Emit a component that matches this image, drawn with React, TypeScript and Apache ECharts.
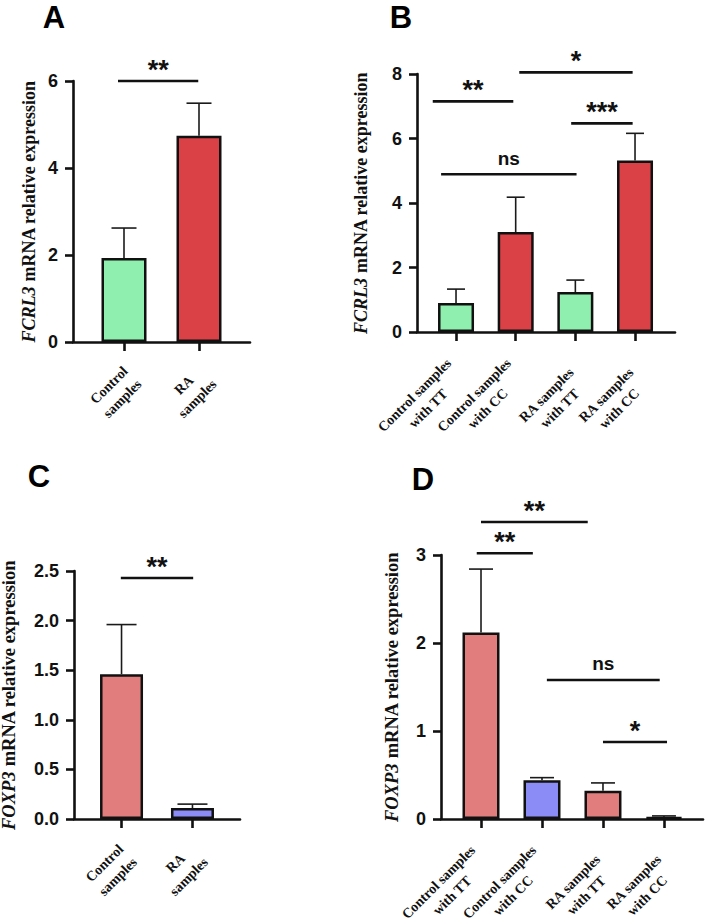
import React, { useEffect, useRef } from 'react';
import * as echarts from 'echarts';

// ---- Group names --------------------------------------------------------
const twoGroups = ['Control\nsamples', 'RA\nsamples'];
const genotypeGroups = [
  'Control samples\nwith TT',
  'Control samples\nwith CC',
  'RA samples\nwith TT',
  'RA samples\nwith CC',
];

// ---- Relative expression (mean and SEM) ----------------------------------
const fcrl3Mean = [1.93, 4.74];
const fcrl3Sem = [0.69, 0.75];

const fcrl3GenoMean = [0.9, 3.1, 1.24, 5.32];
const fcrl3GenoSem = [0.43, 1.08, 0.37, 0.84];

const foxp3Mean = [1.46, 0.11];
const foxp3Sem = [0.5, 0.04];

const foxp3GenoMean = [2.12, 0.44, 0.32, 0.02];
const foxp3GenoSem = [0.72, 0.03, 0.09, 0.015];

// ---- Significance brackets: [from group, to group, height, mark] ----------
const fcrl3Sig: [number, number, number, string][] = [[-0.08, 0.99, 6.0, '**']];
const fcrl3GenoSig: [number, number, number, string][] = [
  [-0.39, 0.96, 7.15, '**'],
  [1.06, 2.96, 8.05, '*'],
  [1.93, 2.96, 6.47, '***'],
  [-0.25, 2.02, 4.89, 'ns'],
];
const foxp3Sig: [number, number, number, string][] = [[-0.01, 1.01, 2.43, '**']];
const foxp3GenoSig: [number, number, number, string][] = [
  [-0.07, 0.85, 3.02, '**'],
  [0, 1.75, 3.375, '**'],
  [1.08, 2.93, 1.58, 'ns'],
  [2.0, 3.05, 0.875, '*'],
];

// ---- Value axes: [max, step] ---------------------------------------------
const fcrl3Axis = [6, 2];
const fcrl3GenoAxis = [8, 2];
const foxp3Axis = [2.5, 0.5];
const foxp3GenoAxis = [3, 1];

const GREEN = '#8FEFAE';
const RED = '#D94147';
const PINK = '#E27D7D';
const BLUE = '#8C8CF7';

const SANS = '"Liberation Sans", Arial, sans-serif';
const SERIF = '"Liberation Serif", "Times New Roman", serif';
const LABEL_SIZE = 14;
const LABEL_LINE = 19;
const R2 = Math.SQRT1_2;

let measureCtx: CanvasRenderingContext2D | null = null;
function textWidth(s: string): number {
  if (!measureCtx) measureCtx = document.createElement('canvas').getContext('2d');
  if (!measureCtx) return s.length * 7;
  measureCtx.font = `bold ${LABEL_SIZE}px ${SERIF}`;
  return measureCtx.measureText(s).width;
}

type Panel = {
  letter: string;
  letterPos: [number, number];
  gene: string;
  cats: string[];
  mean: number[];
  sem: number[];
  colors: string[];
  sig: [number, number, number, string][];
  axis: number[];
  decimals: number;
  grid: { left: number; top: number; width: number; height: number };
  xRange: [number, number];
  barWidth: number;
  cap: number;
  nameGap: number;
  nameSize: number;
  labelDx: number;
  labelDy: number;
};

const panels: Panel[] = [
  {
    letter: 'A', letterPos: [54, 17], gene: 'FCRL3',
    cats: twoGroups, mean: fcrl3Mean, sem: fcrl3Sem, colors: [GREEN, RED],
    sig: fcrl3Sig, axis: fcrl3Axis, decimals: 0,
    grid: { left: 73, top: 81, width: 177, height: 261 },
    xRange: [-0.68, 1.68], barWidth: 45, cap: 25, nameGap: 35, nameSize: 18,
    labelDx: 14, labelDy: 50,
  },
  {
    letter: 'B', letterPos: [401, 17], gene: 'FCRL3',
    cats: genotypeGroups, mean: fcrl3GenoMean, sem: fcrl3GenoSem,
    colors: [GREEN, RED, GREEN, RED],
    sig: fcrl3GenoSig, axis: fcrl3GenoAxis, decimals: 0,
    grid: { left: 417, top: 74, width: 258, height: 258 },
    xRange: [-0.654, 3.67], barWidth: 36, cap: 18, nameGap: 47, nameSize: 18,
    labelDx: 11, labelDy: 70,
  },
  {
    letter: 'C', letterPos: [39, 476], gene: 'FOXP3',
    cats: twoGroups, mean: foxp3Mean, sem: foxp3Sem, colors: [PINK, BLUE],
    sig: foxp3Sig, axis: foxp3Axis, decimals: 1,
    grid: { left: 74, top: 571, width: 166, height: 248 },
    xRange: [-0.67, 1.67], barWidth: 43, cap: 30, nameGap: 56, nameSize: 18.5,
    labelDx: 12, labelDy: 51,
  },
  {
    letter: 'D', letterPos: [423, 479], gene: 'FOXP3',
    cats: genotypeGroups, mean: foxp3GenoMean, sem: foxp3GenoSem,
    colors: [PINK, BLUE, PINK, BLUE],
    sig: foxp3GenoSig, axis: foxp3GenoAxis, decimals: 0,
    grid: { left: 441, top: 555, width: 262, height: 264 },
    xRange: [-0.656, 3.64], barWidth: 37, cap: 24, nameGap: 40, nameSize: 18.5,
    labelDx: 10, labelDy: 70,
  },
];

// Group labels are rotated 45°, right-aligned at the tick by ECharts. Lines are
// centred on each other with right padding, and each label's anchor is nudged
// so that the centre of its block sits at a fixed depth below the axis.
function groupLabelAxis(p: Panel) {
  const pxPerUnit = p.grid.width / (p.xRange[1] - p.xRange[0]);
  const layout = p.cats.map((c) => {
    const lines = c.split('\n');
    const widths = lines.map(textWidth);
    const wm = Math.max(...widths);
    const dxr = p.labelDx - 0.116 * wm; // right-middle point, relative to tick
    const dyr = p.labelDy - R2 * 0.5 * wm;
    return { lines, widths, wm, dxr, dyr };
  });
  const margin = Math.min(...layout.map((l) => l.dyr));
  const rich: Record<string, any> = {};
  const values: number[] = [];
  layout.forEach((l, i) => {
    const R = (l.dyr - margin) / R2;
    values.push(i + (l.dxr + R2 * R) / pxPerUnit);
    l.lines.forEach((_, j) => {
      rich[`g${i}_${j}`] = {
        color: '#111',
        fontFamily: SERIF,
        fontWeight: 'bold',
        fontSize: LABEL_SIZE,
        lineHeight: LABEL_LINE,
        padding: [0, R + (l.wm - l.widths[j]) / 2, 0, 0],
      };
    });
  });
  return {
    show: true,
    customValues: values,
    rotate: 45,
    margin,
    color: '#111',
    fontFamily: SERIF,
    fontWeight: 'bold',
    fontSize: LABEL_SIZE,
    lineHeight: LABEL_LINE,
    formatter: (v: number) => {
      const i = Math.max(0, Math.min(p.cats.length - 1, Math.round(v)));
      return layout[i].lines.map((s, j) => `{g${i}_${j}|${s}}`).join('\n');
    },
    rich,
  };
}

function buildOption() {
  const grid: any[] = [];
  const xAxis: any[] = [];
  const yAxis: any[] = [];
  const series: any[] = [];

  panels.forEach((p, k) => {
    grid.push({ ...p.grid, containLabel: false, outerBoundsMode: 'none' });

    const idx = p.cats.map((_, i) => i);
    xAxis.push({
      gridIndex: k,
      type: 'value',
      min: p.xRange[0],
      max: p.xRange[1],
      axisLine: { show: true, onZero: false, lineStyle: { color: '#111', width: 2.6 } },
      axisTick: { show: true, inside: false, length: 9, customValues: idx, lineStyle: { color: '#111', width: 2.6 } },
      axisLabel: groupLabelAxis(p),
      splitLine: { show: false },
    });

    yAxis.push({
      gridIndex: k,
      type: 'value',
      min: 0,
      max: p.axis[0],
      interval: p.axis[1],
      axisLine: { show: true, onZero: false, lineStyle: { color: '#111', width: 2.6 } },
      axisTick: { show: true, inside: false, length: 8, lineStyle: { color: '#111', width: 2.6 } },
      axisLabel: {
        margin: 15,
        color: '#111',
        fontFamily: SANS,
        fontWeight: 'bold',
        fontSize: 18,
        formatter: (v: number) => v.toFixed(p.decimals),
      },
      splitLine: { show: false },
      name: `{i|${p.gene}} mRNA relative expression`,
      nameLocation: 'middle',
      nameGap: p.nameGap,
      nameMoveOverlap: false,
      nameTextStyle: {
        color: '#111',
        fontFamily: SERIF,
        fontWeight: 'bold',
        fontSize: p.nameSize,
        rich: {
          i: {
            color: '#111',
            fontFamily: SERIF,
            fontWeight: 'bold',
            fontStyle: 'italic',
            fontSize: p.nameSize,
          },
        },
      },
    });

    // Bars
    series.push({
      type: 'bar',
      xAxisIndex: k,
      yAxisIndex: k,
      barWidth: p.barWidth,
      z: 2,
      data: p.mean.map((v, i) => ({
        value: [i, v],
        itemStyle: { color: p.colors[i], borderColor: '#111', borderWidth: 2.5 },
      })),
    });

    // Upper error bars
    const cap = p.cap;
    series.push({
      type: 'custom',
      xAxisIndex: k,
      yAxisIndex: k,
      z: 3,
      encode: { x: 0, y: [1, 2] },
      data: p.mean.map((v, i) => [i, v, v + p.sem[i]]),
      renderItem: (_params: any, api: any) => {
        const x = api.value(0);
        const a = api.coord([x, api.value(1)]);
        const b = api.coord([x, api.value(2)]);
        const st = { stroke: '#1a1a1a', lineWidth: 1.6 };
        return {
          type: 'group',
          children: [
            { type: 'line', shape: { x1: a[0], y1: a[1], x2: b[0], y2: b[1] }, style: st },
            { type: 'line', shape: { x1: b[0] - cap / 2, y1: b[1], x2: b[0] + cap / 2, y2: b[1] }, style: st },
          ],
        };
      },
    });

    // Significance brackets
    const sig = p.sig;
    series.push({
      type: 'custom',
      xAxisIndex: k,
      yAxisIndex: k,
      z: 4,
      clip: false,
      encode: { x: [0, 1], y: 2 },
      data: sig.map((s) => [s[0], s[1], s[2]]),
      renderItem: (params: any, api: any) => {
        const mark = sig[params.dataIndex][3];
        const a = api.coord([api.value(0), api.value(2)]);
        const b = api.coord([api.value(1), api.value(2)]);
        const isNs = mark === 'ns';
        return {
          type: 'group',
          children: [
            { type: 'line', shape: { x1: a[0], y1: a[1], x2: b[0], y2: b[1] }, style: { stroke: '#111', lineWidth: 2.6 } },
            {
              type: 'text',
              x: (a[0] + b[0]) / 2,
              y: a[1] - (isNs ? 16 : 11),
              style: {
                text: mark,
                fill: '#111',
                font: `bold ${isNs ? 19 : 27}px ${SANS}`,
                align: 'center',
                verticalAlign: 'middle',
              },
            },
          ],
        };
      },
    });
  });

  const graphic: any[] = panels.map((p) => ({
    type: 'text',
    x: p.letterPos[0],
    y: p.letterPos[1],
    style: {
      text: p.letter,
      fill: '#000',
      font: `bold 31px ${SANS}`,
      align: 'center',
      verticalAlign: 'middle',
    },
  }));

  return {
    animation: false,
    backgroundColor: '#ffffff',
    grid,
    xAxis,
    yAxis,
    series,
    graphic,
  };
}

export default function App() {
  const ref = useRef<HTMLDivElement>(null);

  useEffect(() => {
    if (!ref.current) return;
    const chart = echarts.init(ref.current, undefined, { renderer: 'svg' });
    chart.setOption(buildOption() as any);
    return () => chart.dispose();
  }, []);

  return (
    <div
      ref={ref}
      style={{ position: 'absolute', left: 0, top: 0, width: 708, height: 923, background: '#fff' }}
    />
  );
}
